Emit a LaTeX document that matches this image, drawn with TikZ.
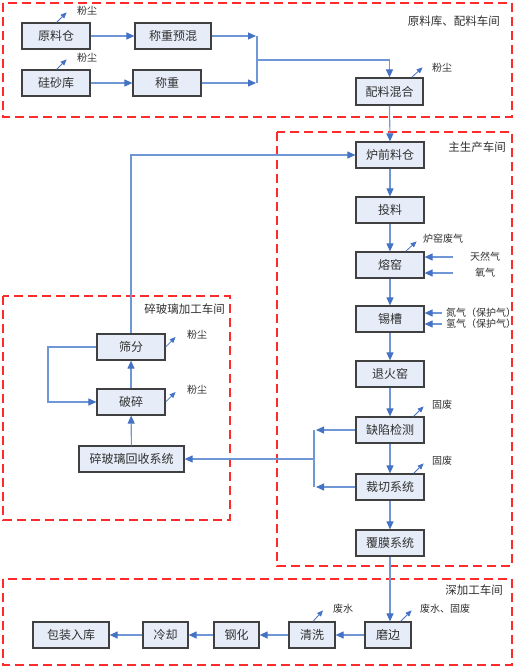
\documentclass[tikz,border=0pt]{standalone}
\usepackage{fontspec}
\setmainfont{Noto Sans CJK SC}
\usetikzlibrary{arrows.meta}
\definecolor{boxfill}{HTML}{E6EDF8}
\definecolor{boxline}{HTML}{404040}
\definecolor{lineblue}{HTML}{6F97D6}
\definecolor{arrowblue}{HTML}{4472C4}
\definecolor{secred}{HTML}{FF2A2A}
\definecolor{txt}{HTML}{303030}
\begin{document}
\begin{tikzpicture}[x=1pt,y=-1pt,
  box/.style={draw=boxline, fill=boxfill, line width=1.2pt, minimum height=26pt,
    inner sep=0pt, text=txt, font=\fontsize{12}{12}\selectfont},
  conn/.style={draw=lineblue, line width=1.1pt, -{Triangle[length=8pt,width=7pt,color=arrowblue]}},
  plain/.style={draw=lineblue, line width=1.1pt},
  emit/.style={draw=arrowblue, line width=0.8pt, -{Triangle[length=6pt,width=5pt]}},
  lbl/.style={text=txt, font=\fontsize{10}{10}\selectfont, inner sep=0pt},
  sec/.style={draw=secred, line width=1.4pt, dash pattern=on 9pt off 5pt},
  seclbl/.style={text=txt, font=\fontsize{11.5}{11.5}\selectfont, inner sep=0pt}
]
\useasboundingbox (0,0) rectangle (531,670);
% section frames
\draw[sec] (3,3) rectangle (512,117);
\draw[sec] (277,132) rectangle (512,566);
\draw[sec] (3,296) rectangle (230,520);
\draw[sec] (3,579) rectangle (512,665);
\node[seclbl, anchor=east] (s1) at (500,21) {原料库、配料车间};
\node[seclbl, anchor=east] (s2) at (506,147) {主生产车间};
\node[seclbl, anchor=east] (s3) at (225,309) {碎玻璃加工车间};
\node[seclbl, anchor=east] (s4) at (503,590) {深加工车间};

% raw material section
\node[box, minimum width=68pt] (ylc) at (56,36) {原料仓};
\node[box, minimum width=76pt] (czyh) at (173,36) {称重预混};
\node[box, minimum width=68pt] (gsk) at (56,83) {硅砂库};
\node[box, minimum width=68pt] (cz) at (167,83) {称重};
\node[box, minimum width=67pt, minimum height=27pt] (plhh) at (389.5,91.5) {配料混合};

% main production
\foreach \n/\t/\y in {lqlc/炉前料仓/155, tl/投料/210, ry/熔窑/265, xc/锡槽/319,
  thy/退火窑/374, qxjc/缺陷检测/430, cqxt/裁切系统/487, fmxt/覆膜系统/543}
  \node[box, minimum width=68pt] (\n) at (390,\y) {\t};

% cullet section
\node[box, minimum width=68pt] (sf) at (131,347) {筛分};
\node[box, minimum width=68pt] (ps) at (131,402) {破碎};
\node[box, minimum width=105pt] (hs) at (131.5,459) {碎玻璃回收系统};

% deep processing
\node[box, minimum width=46pt] (mb) at (388,635) {磨边};
\node[box, minimum width=46pt] (qx) at (312,635) {清洗};
\node[box, minimum width=45pt] (gh) at (236.5,635) {钢化};
\node[box, minimum width=45pt] (lq) at (165.5,635) {冷却};
\node[box, minimum width=76pt] (bz) at (71,635) {包装入库};

% coordinates
\coordinate (m1) at (256,36);
\coordinate (m2) at (256,83);
\coordinate (m) at (257,60);
\coordinate (b1) at (314,430);
\coordinate (b2) at (314,487);
\coordinate (bm) at (314,459);
\coordinate (loop1) at (48,347);
\coordinate (loop2) at (48,402);

% connectors raw section
\draw[conn] (ylc) -- (czyh);
\draw[conn] (gsk) -- (cz);
\draw[conn] (czyh.east) -- (m1);
\draw[conn] (cz.east) -- (m2);
\draw[plain] (257,36) -- (257,83);
\draw[conn] (m) -| (plhh.north);
\draw[conn] (plhh.south) -- (lqlc.north);

% main column
\draw[conn] (lqlc) -- (tl);
\draw[conn] (tl) -- (ry);
\draw[conn] (ry) -- (xc);
\draw[conn] (xc) -- (thy);
\draw[conn] (thy) -- (qxjc);
\draw[conn] (qxjc) -- (cqxt);
\draw[conn] (cqxt) -- (fmxt);

% rejects to cullet
\draw[conn] (qxjc.west) -- ([xshift=2pt]b1);
\draw[conn] (cqxt.west) -- ([xshift=2pt]b2);
\draw[plain] (b1) -- (b2);
\draw[conn] (bm) -- (hs.east);

% cullet flow
\draw[conn] (hs) -- (ps);
\draw[conn] (ps) -- (sf);
\draw[conn] (sf.west) -- (loop1) -- (loop2) -- (ps.west);
\draw[conn] (sf.north) |- (lqlc.west);

% deep processing
\draw[conn] (fmxt.south) -- (fmxt.south |- mb.north);
\draw[conn] (mb) -- (qx);
\draw[conn] (qx) -- (gh);
\draw[conn] (gh) -- (lq);
\draw[conn] (lq) -- (bz);

% emissions
\node[lbl] (e1) at (87,11) {粉尘};
\draw[emit] ([xshift=-34pt]ylc.north east) -- ++(10,-10);
\node[lbl] (e2) at (87,58) {粉尘};
\draw[emit] ([xshift=-34pt]gsk.north east) -- ++(10,-10);
\node[lbl] (e3) at (442,68) {粉尘};
\draw[emit] ([xshift=-12pt]plhh.north east) -- ++(11,-10);
\node[lbl] (e4) at (443,239) {炉窑废气};
\draw[emit] ([xshift=-19pt]ry.north east) -- ++(11,-10);
\node[lbl] (e5) at (442,405) {固废};
\draw[emit] ([xshift=-11pt]qxjc.north east) -- ++(10,-10);
\node[lbl] (e6) at (442,461) {固废};
\draw[emit] ([xshift=-11pt]cqxt.north east) -- ++(10,-10);
\node[lbl] (e7) at (197,335) {粉尘};
\draw[emit] (sf.east) -- ++(10,-10);
\node[lbl] (e8) at (197,390) {粉尘};
\draw[emit] (ps.east) -- ++(10,-10);
\node[lbl] (e9) at (343,609) {废水};
\draw[emit] ([xshift=1pt]qx.north) -- ++(10,-11);
\node[lbl, anchor=west] (e10) at (420,609) {废水、固废};
\draw[emit] ([xshift=-11pt]mb.north east) -- ++(11,-11);

% gas inputs
\node[lbl] (g1) at (485,257) {天然气};
\node[lbl] (g2) at (485,273) {氧气};
\draw[conn] (453,257) -- (ry.east |- 0,257);
\draw[conn] (453,273) -- (ry.east |- 0,273);
\node[lbl, anchor=west] (g3) at (446,313) {氮气（保护气）};
\node[lbl, anchor=west] (g4) at (446,324) {氢气（保护气）};
\draw[conn] (442,313) -- (xc.east |- 0,313);
\draw[conn] (442,324) -- (xc.east |- 0,324);
\end{tikzpicture}
\end{document}
